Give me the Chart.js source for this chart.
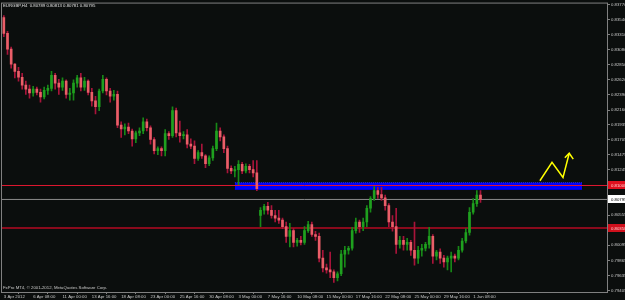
<!DOCTYPE html>
<html>
<head>
<meta charset="utf-8">
<script src="https://cdn.jsdelivr.net/npm/chart.js@4.4.1/dist/chart.umd.min.js"></script>
<style>
  html, body { margin: 0; padding: 0; background: #0b0e0d; }
  #chart { display: block; }
</style>
</head>
<body>
<canvas id="chart" width="625" height="300"></canvas>
<script>
// EURGBP H4, one entry per candle
const OPEN = [
  0.8357,0.8333,0.8309,0.8286,0.8275,0.8266,0.8254,0.8248,0.8242,0.8248,
  0.8243,0.8236,0.8246,0.8249,0.8269,0.8257,0.8251,0.8260,0.8240,0.8242,
  0.8257,0.8265,0.8251,0.8260,0.8243,0.8230,0.8221,0.8245,0.8263,0.8245,
  0.8237,0.8240,0.8193,0.8187,0.8190,0.8184,0.8172,0.8181,0.8184,0.8198,
  0.8189,0.8171,0.8154,0.8157,0.8154,0.8180,0.8177,0.8215,0.8181,0.8177,
  0.8178,0.8164,0.8161,0.8142,0.8151,0.8146,0.8134,0.8143,0.8157,0.8184,
  0.8175,0.8157,0.8127,0.8123,0.8125,0.8133,0.8123,0.8130,0.8125,0.8120,
  0.8055,0.8063,0.8069,0.8063,0.8055,0.8051,0.8048,0.8038,0.8023,0.8032,
  0.8014,0.8017,0.8014,0.8032,0.8041,0.8026,0.8023,0.7990,0.7975,0.7972,
  0.7969,0.7960,0.7966,0.7996,0.8002,0.8005,0.8032,0.8045,0.8038,0.8045,
  0.8066,0.8081,0.8093,0.8087,0.8082,0.8070,0.8045,0.8038,0.8011,0.8017,
  0.8011,0.8014,0.8002,0.7990,0.8002,0.8005,0.8011,0.8023,0.7993,0.7999,
  0.7990,0.7984,0.7990,0.7993,0.7990,0.8002,0.8016,0.8029,0.8060,0.8073,0.8086
];
const HIGH = [
  0.8360,0.8336,0.8312,0.8287,0.8281,0.8272,0.8260,0.8254,0.8252,0.8251,
  0.8248,0.8251,0.8254,0.8275,0.8272,0.8263,0.8265,0.8262,0.8249,0.8262,
  0.8269,0.8272,0.8266,0.8262,0.8249,0.8237,0.8248,0.8269,0.8265,0.8249,
  0.8246,0.8245,0.8198,0.8195,0.8196,0.8187,0.8184,0.8189,0.8204,0.8202,
  0.8192,0.8174,0.8160,0.8160,0.8186,0.8183,0.8221,0.8219,0.8199,0.8183,
  0.8186,0.8172,0.8169,0.8154,0.8164,0.8148,0.8146,0.8161,0.8196,0.8189,
  0.8178,0.8161,0.8131,0.8130,0.8139,0.8136,0.8134,0.8133,0.8139,0.8139,
  0.8067,0.8072,0.8075,0.8070,0.8063,0.8063,0.8051,0.8045,0.8043,0.8035,
  0.8020,0.8023,0.8038,0.8046,0.8045,0.8031,0.8028,0.8002,0.7981,0.7999,
  0.7972,0.7969,0.8002,0.8008,0.8008,0.8037,0.8051,0.8048,0.8051,0.8070,
  0.8084,0.8099,0.8098,0.8098,0.8086,0.8073,0.8055,0.8066,0.8023,0.8023,
  0.8020,0.8017,0.8045,0.8008,0.8011,0.8014,0.8037,0.8026,0.8002,0.8004,
  0.7994,0.7993,0.7999,0.7996,0.8008,0.8020,0.8035,0.8067,0.8081,0.8093,0.8093
];
const LOW = [
  0.8328,0.8301,0.8280,0.8265,0.8260,0.8248,0.8240,0.8234,0.8237,0.8239,
  0.8228,0.8233,0.8240,0.8245,0.8248,0.8240,0.8246,0.8234,0.8231,0.8231,
  0.8251,0.8245,0.8246,0.8239,0.8222,0.8210,0.8215,0.8242,0.8239,0.8228,
  0.8231,0.8189,0.8174,0.8178,0.8180,0.8161,0.8166,0.8177,0.8180,0.8184,
  0.8164,0.8149,0.8148,0.8146,0.8146,0.8171,0.8174,0.8175,0.8167,0.8172,
  0.8158,0.8157,0.8134,0.8139,0.8142,0.8128,0.8131,0.8139,0.8154,0.8169,
  0.8151,0.8120,0.8119,0.8114,0.8102,0.8119,0.8120,0.8120,0.8114,0.8093,
  0.8038,0.8057,0.8057,0.8051,0.8045,0.8043,0.8035,0.8014,0.8007,0.8007,
  0.8008,0.8010,0.8011,0.8029,0.8023,0.8017,0.7984,0.7969,0.7967,0.7960,
  0.7953,0.7955,0.7963,0.7976,0.7996,0.8002,0.8028,0.8029,0.8032,0.8038,
  0.8060,0.8078,0.8081,0.8078,0.8063,0.8038,0.8031,0.7997,0.8005,0.8002,
  0.8002,0.7994,0.7979,0.7982,0.7993,0.8001,0.8005,0.7982,0.7987,0.7982,
  0.7976,0.7972,0.7969,0.7984,0.7987,0.7999,0.8013,0.8025,0.8057,0.8069,0.8075
];
const CLOSE = [
  0.8333,0.8309,0.8286,0.8275,0.8266,0.8254,0.8248,0.8242,0.8248,0.8243,
  0.8236,0.8246,0.8249,0.8269,0.8257,0.8251,0.8260,0.8240,0.8242,0.8257,
  0.8265,0.8251,0.8260,0.8243,0.8230,0.8221,0.8245,0.8263,0.8245,0.8237,
  0.8240,0.8193,0.8187,0.8190,0.8184,0.8172,0.8181,0.8184,0.8198,0.8189,
  0.8171,0.8154,0.8157,0.8154,0.8180,0.8177,0.8215,0.8181,0.8177,0.8178,
  0.8164,0.8161,0.8142,0.8151,0.8146,0.8134,0.8143,0.8157,0.8184,0.8175,
  0.8157,0.8127,0.8123,0.8125,0.8133,0.8123,0.8130,0.8125,0.8120,0.8096,
  0.8063,0.8069,0.8063,0.8055,0.8051,0.8048,0.8038,0.8023,0.8032,0.8014,
  0.8017,0.8014,0.8032,0.8041,0.8026,0.8023,0.7990,0.7975,0.7972,0.7969,
  0.7960,0.7966,0.7996,0.8002,0.8005,0.8032,0.8045,0.8038,0.8045,0.8066,
  0.8081,0.8093,0.8087,0.8082,0.8070,0.8045,0.8038,0.8011,0.8017,0.8011,
  0.8014,0.8002,0.7990,0.8002,0.8005,0.8011,0.8023,0.7993,0.7999,0.7990,
  0.7984,0.7990,0.7993,0.7990,0.8002,0.8016,0.8029,0.8060,0.8073,0.8086,0.80795
];

// time axis: one label every 8 candles
const TIME_LABELS = [
  '3 Apr 2012', '6 Apr 08:00', '11 Apr 00:00', '13 Apr 16:00', '18 Apr 08:00',
  '23 Apr 00:00', '25 Apr 16:00', '30 Apr 08:00', '3 May 00:00', '7 May 16:00',
  '10 May 08:00', '15 May 00:00', '17 May 16:00', '22 May 08:00', '25 May 00:00',
  '29 May 16:00', '1 Jun 08:00'
];
const LABEL_EVERY = 8;
const SLOTS = 165;

const PRICE_TICKS = [
  0.83770, 0.83540, 0.83310, 0.83080, 0.82850, 0.82620, 0.82390, 0.82160, 0.81935, 0.81705,
  0.81475, 0.81245, 0.81015, 0.80785, 0.80555, 0.80325, 0.80095, 0.79865, 0.79635, 0.79405
];
const Y_MIN = 0.79382;
const Y_MAX = 0.83785;

// drawn objects
const RESIST_LEVEL = 0.81008;
const SUPPORT_LEVEL = 0.80358;
const BID = 0.80795;
const ZONE_X = [63, 157.7];
const ZONE_TOP = 0.8105;
const ZONE_BOTTOM = 0.8095;
const ARROW_X = [146.2, 149.5, 152.5, 154.2];
const ARROW_Y = [0.8108, 0.8136, 0.8113, 0.8150];
const HEAD_X = [153.0, 154.2, 155.3];
const HEAD_Y = [0.8143, 0.8150, 0.8141];

const HEADER = 'EURGBP,H4  0.80789 0.80813 0.80781 0.80795';
const FOOTER = 'FxPro MT4, \u00A9 2001-2012, MetaQuotes Software Corp.';

const BG = '#0b0e0d';
const FRAME = '#808080';
const FONT = '"Liberation Sans", Arial, sans-serif';

const up = i => CLOSE[i] >= OPEN[i];
const idx = CLOSE.map((_, i) => i);
const hline = v => [{ x: -0.5, y: v }, { x: SLOTS - 0.5, y: v }];

const bgPlugin = {
  id: 'bg',
  beforeDraw(chart) {
    const ctx = chart.ctx;
    ctx.save();
    ctx.fillStyle = BG;
    ctx.fillRect(0, 0, chart.width, chart.height);
    ctx.restore();
  },
  afterDraw(chart) {
    const { ctx, chartArea: a } = chart;
    const y = chart.scales.y;
    ctx.save();
    // frame
    ctx.strokeStyle = FRAME;
    ctx.lineWidth = 1;
    ctx.strokeRect(a.left - 0.5, a.top - 0.5, a.right - a.left + 1, a.bottom - a.top + 1);

    ctx.font = '4.3px ' + FONT;
    ctx.textBaseline = 'middle';
    ctx.fillStyle = '#e0e0e0';
    ctx.fillText(HEADER, 3, 5.5);
    ctx.fillStyle = '#c8c8c8';
    ctx.fillText(FOOTER, 3, 288);

    // price boxes on the right scale
    const boxes = [
      { v: RESIST_LEVEL, bg: '#e0101e', fg: '#ffd0d0' },
      { v: BID, bg: '#ffffff', fg: '#000000' },
      { v: SUPPORT_LEVEL, bg: '#d0101c', fg: '#ffd0d0' },
    ];
    boxes.forEach(b => {
      const py = Math.round(y.getPixelForValue(b.v));
      ctx.fillStyle = b.bg;
      ctx.fillRect(a.right + 1, py - 4, 20, 8);
      ctx.fillStyle = b.fg;
      ctx.fillText(b.v.toFixed(5), a.right + 4, py + 0.5);
    });
    ctx.restore();
  }
};

new Chart(document.getElementById('chart'), {
  type: 'bar',
  data: {
    datasets: [
      {
        type: 'line',
        data: [{ x: ZONE_X[0], y: ZONE_TOP }, { x: ZONE_X[1], y: ZONE_TOP }],
        borderColor: '#3030ff',
        borderWidth: 1,
        borderDash: [1, 1],
        backgroundColor: '#0000ff',
        pointRadius: 0,
        fill: '+1',
        order: 6,
      },
      {
        type: 'line',
        data: [{ x: ZONE_X[0], y: ZONE_BOTTOM }, { x: ZONE_X[1], y: ZONE_BOTTOM }],
        borderColor: '#0000ff',
        borderWidth: 1,
        pointRadius: 0,
        order: 7,
      },
      {
        type: 'line',
        data: hline(BID),
        borderColor: '#8c8c8c',
        borderWidth: 1,
        pointRadius: 0,
        order: 5,
      },
      {
        type: 'line',
        data: hline(RESIST_LEVEL),
        borderColor: '#e01830',
        borderWidth: 1,
        pointRadius: 0,
        order: 5,
      },
      {
        type: 'line',
        data: hline(SUPPORT_LEVEL),
        borderColor: '#8a0a1c',
        borderWidth: 2,
        pointRadius: 0,
        order: 5,
      },
      {
        data: idx.map(i => ({ x: i, y: [LOW[i], HIGH[i]] })),
        backgroundColor: idx.map(i => up(i) ? '#178817' : '#a8143a'),
        barThickness: 1,
        grouped: false,
        order: 3,
      },
      {
        data: idx.map(i => ({ x: i, y: [OPEN[i], CLOSE[i]] })),
        backgroundColor: idx.map(i => up(i) ? '#1fa01f' : '#ea5e68'),
        barThickness: 2,
        minBarLength: 1,
        grouped: false,
        order: 2,
      },
      {
        type: 'line',
        data: ARROW_X.map((x, k) => ({ x, y: ARROW_Y[k] })),
        borderColor: '#ffff00',
        borderWidth: 1.5,
        pointRadius: 0,
        tension: 0,
        order: 1,
      },
      {
        type: 'line',
        data: HEAD_X.map((x, k) => ({ x, y: HEAD_Y[k] })),
        borderColor: '#ffff00',
        borderWidth: 1.5,
        pointRadius: 0,
        tension: 0,
        order: 1,
      },
    ]
  },
  options: {
    responsive: false,
    animation: false,
    events: [],
    layout: { padding: { left: 2, top: 2, right: 0, bottom: 0 } },
    plugins: { legend: { display: false }, tooltip: { enabled: false } },
    scales: {
      x: {
        type: 'linear',
        min: -0.5,
        max: SLOTS - 0.5,
        offset: false,
        border: { display: false },
        grid: { drawOnChartArea: false, drawTicks: true, tickLength: 2, color: FRAME },
        afterBuildTicks: s => { s.ticks = TIME_LABELS.map((_, k) => ({ value: k * LABEL_EVERY })); },
        afterFit: s => { s.height = 8; },
        ticks: {
          autoSkip: false,
          maxRotation: 0,
          align: 'start',
          padding: 0,
          color: '#c8c8c8',
          font: { family: FONT, size: 4.3 },
          callback: v => TIME_LABELS[Math.round(v / LABEL_EVERY)],
        },
      },
      y: {
        type: 'linear',
        position: 'right',
        min: Y_MIN,
        max: Y_MAX,
        border: { display: false },
        grid: { drawOnChartArea: false, drawTicks: true, tickLength: 3, color: FRAME },
        afterBuildTicks: s => { s.ticks = PRICE_TICKS.map(v => ({ value: v })); },
        afterFit: s => { s.width = 18; },
        ticks: {
          padding: 1,
          color: '#c8c8c8',
          font: { family: FONT, size: 4.3 },
          callback: v => v.toFixed(5),
        },
      },
    },
  },
  plugins: [bgPlugin],
});
</script>
</body>
</html>
